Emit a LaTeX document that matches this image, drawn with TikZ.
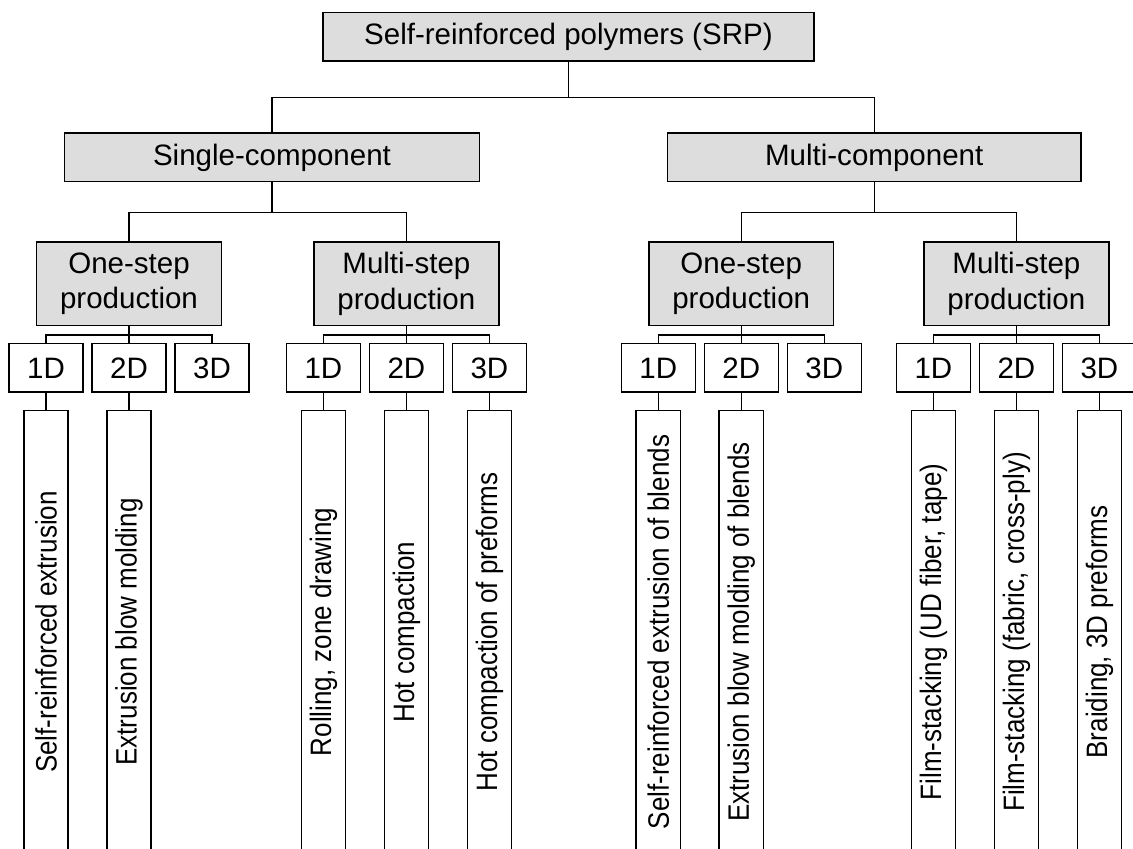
\documentclass[tikz,border=0pt]{standalone}
\usepackage{fontspec}
\setmainfont{Liberation Sans}
\newfontfamily\condfont[FakeStretch=0.88]{Liberation Sans}
\definecolor{boxgray}{RGB}{221,221,221}

\begin{document}
\begin{tikzpicture}[line width=1pt,
	catbox/.style={draw,fill=boxgray,align=center,inner sep=0pt,minimum height=1.21cm,font={\fontsize{21}{25.3}\selectfont}},
	prodbox/.style={catbox,minimum width=4.62cm,minimum height=2.09cm},
	dimbox/.style={draw,inner sep=0pt,minimum width=1.85cm,minimum height=1.21cm,font={\fontsize{21}{25}\selectfont}},
	procbox/.style={draw,rotate=90,inner sep=0pt,minimum width=11.07cm,minimum height=1.11cm,font={\condfont\fontsize{21}{25}\selectfont}}]

				\useasboundingbox (0,0) rectangle (28.325,21.225);
				\clip (0,0) rectangle (28.325,21.225);

				\node[catbox,minimum width=12.275cm] (srp) at (14.21,20.3) {Self-reinforced polymers (SRP)};

				\node[catbox,minimum width=10.375cm] (single) at (6.8,17.29) {Single-component};
				\node[catbox,minimum width=10.33cm] (multi) at (21.855,17.29) {Multi-component};

				\node[prodbox] (oneS) at (3.225,14.13) {One-step\\production};
				\node[prodbox] (multiS) at (10.16,14.13) {Multi-step\\production};
				\node[prodbox] (oneM) at (18.53,14.13) {One-step\\production};
				\node[prodbox] (multiM) at (25.41,14.13) {Multi-step\\production};

				\node[dimbox] (oneS1) at (1.15,12.025) {1D};
				\node[dimbox] (oneS2) at (3.225,12.025) {2D};
				\node[dimbox] (oneS3) at (5.3,12.025) {3D};

				\node[dimbox] (multiS1) at (8.085,12.025) {1D};
				\node[dimbox] (multiS2) at (10.16,12.025) {2D};
				\node[dimbox] (multiS3) at (12.235,12.025) {3D};

				\node[dimbox] (oneM1) at (16.455,12.025) {1D};
				\node[dimbox] (oneM2) at (18.53,12.025) {2D};
				\node[dimbox] (oneM3) at (20.605,12.025) {3D};

				\node[dimbox] (multiM1) at (23.335,12.025) {1D};
				\node[dimbox] (multiM2) at (25.41,12.025) {2D};
				\node[dimbox] (multiM3) at (27.485,12.025) {3D};

				\node[procbox] (procS1) at (1.15,5.425) {Self-reinforced extrusion};
				\node[procbox] (procS2) at (3.225,5.425) {Extrusion blow molding};
				\node[procbox] (procS4) at (8.085,5.425) {Rolling, zone drawing};
				\node[procbox] (procS5) at (10.16,5.425) {Hot compaction};
				\node[procbox] (procS6) at (12.235,5.425) {Hot compaction of preforms};

				\node[procbox] (procM1) at (16.455,5.425) {Self-reinforced extrusion of blends};
				\node[procbox] (procM2) at (18.53,5.425) {Extrusion blow molding of blends};
				\node[procbox] (procM4) at (23.335,5.425) {Film-stacking (UD fiber, tape)};
				\node[procbox] (procM5) at (25.41,5.425) {Film-stacking (fabric, cross-ply)};
				\node[procbox] (procM6) at (27.485,5.425) {Braiding, 3D preforms};

				% tree lines
				\draw (srp.south) -- ++(0,-0.89) -| (single.north);
				\draw (srp.south) -- ++(0,-0.89) -| (multi.north);
				\draw (single.south) -- ++(0,-0.75) -| (oneS.north);
				\draw (single.south) -- ++(0,-0.75) -| (multiS.north);
				\draw (multi.south) -- ++(0,-0.75) -| (oneM.north);
				\draw (multi.south) -- ++(0,-0.75) -| (multiM.north);

				\draw (oneS.south) -- ++(0,-0.22) -| (oneS1.north);
				\draw (oneS.south) -- (oneS2.north);
				\draw (oneS.south) -- ++(0,-0.22) -| (oneS3.north);
				\draw (multiS.south) -- ++(0,-0.22) -| (multiS1.north);
				\draw (multiS.south) -- (multiS2.north);
				\draw (multiS.south) -- ++(0,-0.22) -| (multiS3.north);
				\draw (oneM.south) -- ++(0,-0.22) -| (oneM1.north);
				\draw (oneM.south) -- (oneM2.north);
				\draw (oneM.south) -- ++(0,-0.22) -| (oneM3.north);
				\draw (multiM.south) -- ++(0,-0.22) -| (multiM1.north);
				\draw (multiM.south) -- (multiM2.north);
				\draw (multiM.south) -- ++(0,-0.22) -| (multiM3.north);

				\draw (oneS1.south) -- (procS1.east);
				\draw (oneS2.south) -- (procS2.east);
				\draw (multiS1.south) -- (procS4.east);
				\draw (multiS2.south) -- (procS5.east);
				\draw (multiS3.south) -- (procS6.east);
				\draw (oneM1.south) -- (procM1.east);
				\draw (oneM2.south) -- (procM2.east);
				\draw (multiM1.south) -- (procM4.east);
				\draw (multiM2.south) -- (procM5.east);
				\draw (multiM3.south) -- (procM6.east);

\end{tikzpicture}
\end{document}
